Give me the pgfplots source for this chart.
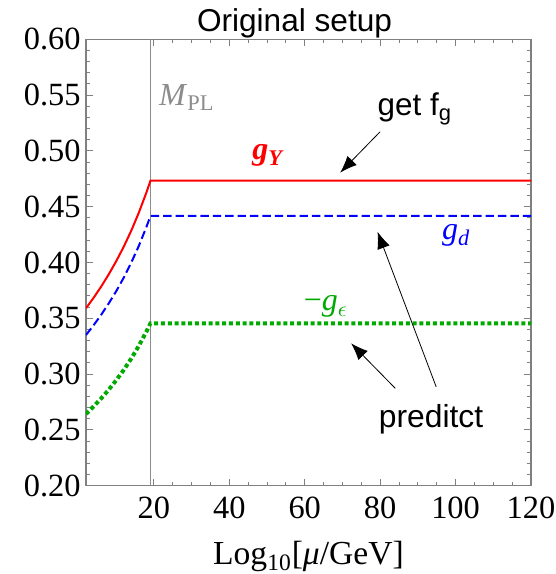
\documentclass[border=0pt]{standalone}
\usepackage{fontspec}
\setmainfont{Liberation Serif}
\setsansfont{Liberation Sans}
\usepackage{pgfplots}
\pgfplotsset{compat=1.18}
\usetikzlibrary{arrows.meta}
\definecolor{mgreen}{RGB}{0,170,0}
\definecolor{framegray}{RGB}{128,128,128}
\definecolor{mplgray}{RGB}{140,140,140}
\begin{document}
\begin{tikzpicture}
\begin{axis}[
  scale only axis, width=222.5pt, height=223.2pt,
  xmin=2, xmax=120, ymin=0.2, ymax=0.6,
  xtick={20,40,60,80,100,120},
  ytick={0.20,0.25,0.30,0.35,0.40,0.45,0.50,0.55,0.60},
  minor x tick num=3, minor y tick num=4,
  axis line style={framegray, line width=0.6pt},
  tick style={framegray, line width=0.5pt},
  major tick length=3.5pt, minor tick length=2pt,
  tick align=inside,
  /pgf/number format/assume math mode=true,
  ticklabel style={font=\fontsize{16.2}{18}\selectfont, inner sep=0pt},
  yticklabel style={xshift=-2.5pt, /pgf/number format/.cd, fixed, fixed zerofill, precision=2},
  xticklabel style={yshift=-5.5pt},
  xlabel={Log\textsubscript{10}[\textit{μ}/GeV]},
  xlabel style={at={(axis description cs:0.5,0)}, anchor=base, yshift=-39.6pt, font=\fontsize{16.8}{18}\selectfont},
]
\addplot[mplgray, line width=0.85pt] coordinates {(19.09,0.2) (19.09,0.6)};
\addplot[red, line width=1pt] coordinates {
 (2,0.359) (4,0.3683) (6,0.3783) (8,0.3892) (10,0.4011) (12,0.4141) (14,0.4285) (16,0.4446) (18,0.4625) (19.09,0.4733) (120,0.4733)};
\addplot[blue, line width=1pt, dash pattern=on 4.2pt off 2pt] coordinates {
 (2,0.335) (4,0.3437) (6,0.3530) (8,0.3632) (10,0.3742) (12,0.3864) (14,0.3999) (16,0.4148) (18,0.4316) (19.09,0.4417) (120,0.4417)};
\addplot[mgreen, line width=2pt, dash pattern=on 2pt off 1.4pt] coordinates {
 (2,0.2643) (4,0.2710) (6,0.2781) (8,0.2859) (10,0.2944) (12,0.3037) (14,0.3139) (16,0.3253) (18,0.3379) (19.09,0.3455) (120,0.3455)};
\node[anchor=west, inner sep=0pt, text=mplgray, font=\fontsize{16}{18}\selectfont] at (axis cs:21.3,0.548) {\textit{M}\textsubscript{PL}};
\node[text=red, font=\fontsize{16}{18}\selectfont\bfseries\itshape] at (axis cs:50.2,0.4956) {g\textsubscript{Y}};
\node[text=blue, font=\fontsize{16}{18}\selectfont\itshape] at (axis cs:100.2,0.4239) {g\textsubscript{d}};
\node[text=mgreen, font=\fontsize{16}{18}\selectfont] at (axis cs:65.6,0.3604) {−\textit{g}\textsubscript{$\epsilon$}};
\node[font=\sffamily\fontsize{15.7}{18}\selectfont] at (axis cs:89.2,0.5375) {get f\textsubscript{g}};
\node[font=\sffamily\fontsize{15.9}{18}\selectfont] at (axis cs:93.5,0.2598) {preditct};
\draw[-{Latex[length=8.5pt,width=6.5pt]}, line width=0.4pt] (axis cs:80.0,0.5172) -- (axis cs:69.4,0.4805);
\draw[-{Latex[length=8.5pt,width=6.5pt]}, line width=0.4pt] (axis cs:84.0,0.2873) -- (axis cs:72.3,0.3276);
\draw[-{Latex[length=8.5pt,width=6.5pt]}, line width=0.4pt] (axis cs:94.85,0.2887) -- (axis cs:79.3,0.4276);
\end{axis}
\node[anchor=base, font=\sffamily\fontsize{15.8}{18}\selectfont, inner sep=0pt] at ([shift={(-7pt,3.8pt)}]current axis.north) {Original setup};
\pgfresetboundingbox
\path[use as bounding box] ([shift={(-43pt,-44.15pt)}]current axis.south west) rectangle ([shift={(12.5pt,19.65pt)}]current axis.north east);
\end{tikzpicture}
\end{document}
